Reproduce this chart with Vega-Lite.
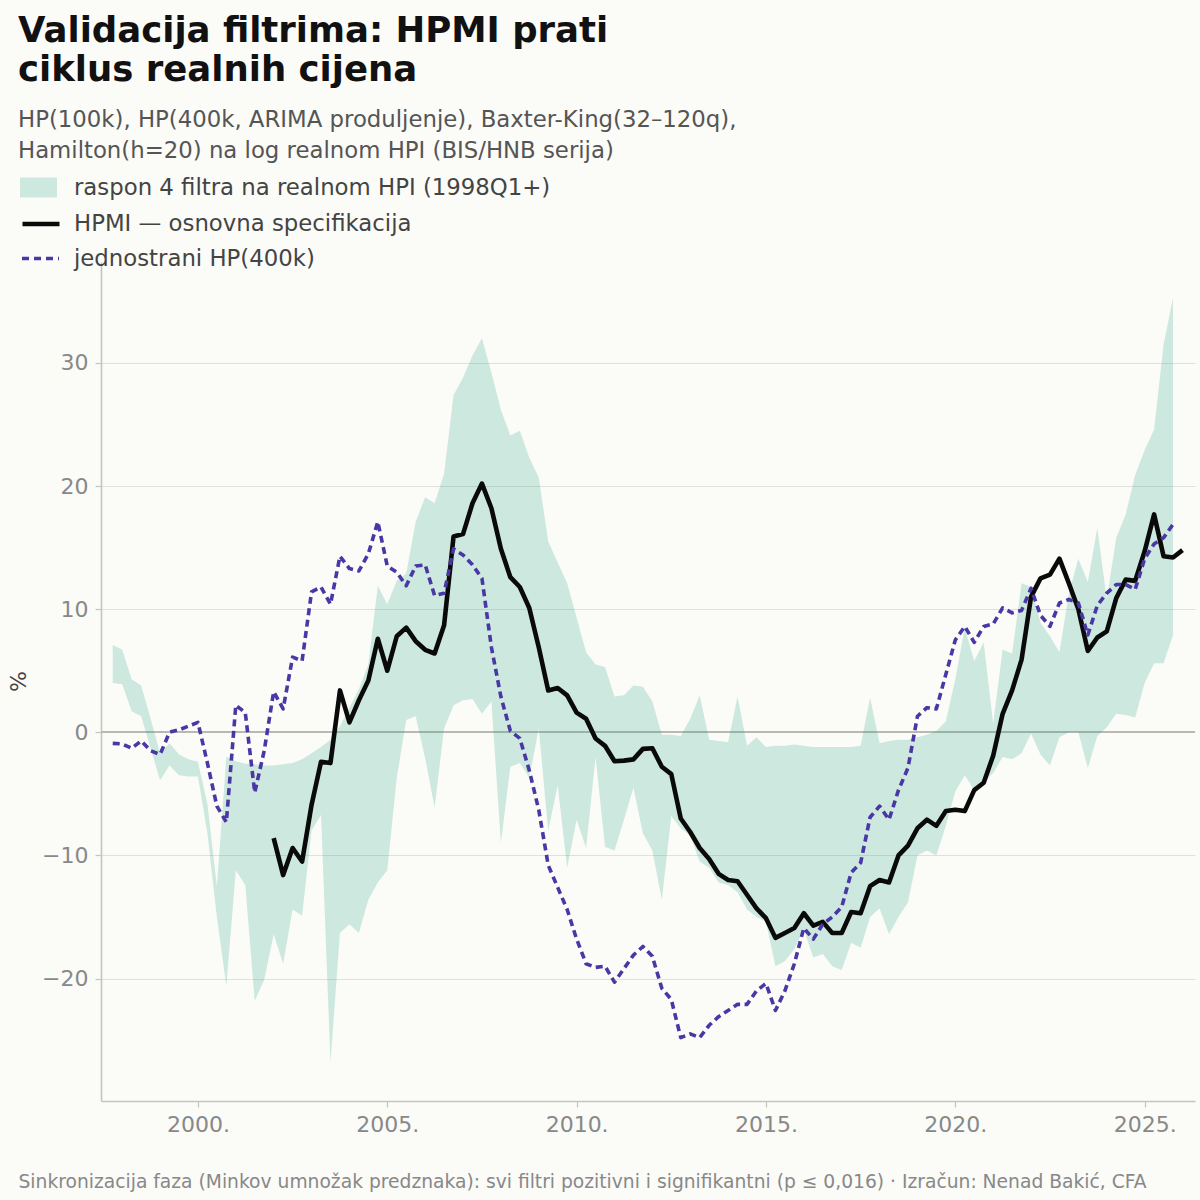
{
  "$schema": "https://vega.github.io/schema/vega-lite/v6.json",
  "width": 1094,
  "height": 839,
  "autosize": {"type": "none"},
  "padding": {"left": 101, "top": 262, "right": 5, "bottom": 99},
  "background": "#fbfbf8",
  "config": {"font": "DejaVu Sans", "view": {"stroke": null}},
  "title": {
    "text": ["Validacija filtrima: HPMI prati", "ciklus realnih cijena"],
    "subtitle": ["HP(100k), HP(400k, ARIMA produljenje), Baxter-King(32–120q),", "Hamilton(h=20) na log realnom HPI (BIS/HNB serija)"],
    "anchor": "start",
    "frame": "group",
    "dx": -83,
    "offset": 6,
    "font": "DejaVu Sans",
    "fontSize": 35.5,
    "fontWeight": "bold",
    "color": "#111111",
    "lineHeight": 38.5,
    "subtitleFont": "DejaVu Sans",
    "subtitleFontSize": 22.8,
    "subtitleColor": "#555555",
    "subtitleLineHeight": 31,
    "subtitlePadding": 21
  },
  "data": {"values": [
    {"t": 1997.75, "lo": 4.0, "hi": 7.1, "h": null, "d": -0.9},
    {"t": 1998.0, "lo": 3.9, "hi": 6.7, "h": null, "d": -0.95},
    {"t": 1998.25, "lo": 1.7, "hi": 4.3, "h": null, "d": -1.3},
    {"t": 1998.5, "lo": 1.3, "hi": 3.8, "h": null, "d": -0.7},
    {"t": 1998.75, "lo": -1.3, "hi": 1.1, "h": null, "d": -1.5},
    {"t": 1999.0, "lo": -3.9, "hi": -1.7, "h": null, "d": -1.8},
    {"t": 1999.25, "lo": -2.7, "hi": -0.9, "h": null, "d": 0.0},
    {"t": 1999.5, "lo": -3.5, "hi": -1.8, "h": null, "d": 0.2},
    {"t": 1999.75, "lo": -3.6, "hi": -2.2, "h": null, "d": 0.5},
    {"t": 2000.0, "lo": -3.6, "hi": -2.4, "h": null, "d": 0.8},
    {"t": 2000.25, "lo": -8.2, "hi": -5.8, "h": null, "d": -2.5},
    {"t": 2000.5, "lo": -15.0, "hi": -12.5, "h": null, "d": -6.0},
    {"t": 2000.75, "lo": -20.6, "hi": -2.0, "h": null, "d": -7.3},
    {"t": 2001.0, "lo": -11.2, "hi": -2.35, "h": null, "d": 2.2},
    {"t": 2001.25, "lo": -12.4, "hi": -2.55, "h": null, "d": 1.6},
    {"t": 2001.5, "lo": -21.8, "hi": -2.6, "h": null, "d": -4.9},
    {"t": 2001.75, "lo": -20.1, "hi": -2.7, "h": null, "d": -1.5},
    {"t": 2002.0, "lo": -16.4, "hi": -2.7, "h": -8.6, "d": 3.3},
    {"t": 2002.25, "lo": -18.8, "hi": -2.6, "h": -11.6, "d": 1.9},
    {"t": 2002.5, "lo": -14.4, "hi": -2.5, "h": -9.4, "d": 6.1},
    {"t": 2002.75, "lo": -14.9, "hi": -2.2, "h": -10.5, "d": 5.8},
    {"t": 2003.0, "lo": -8.0, "hi": -1.7, "h": -5.9, "d": 11.4},
    {"t": 2003.25, "lo": -6.7, "hi": -1.2, "h": -2.4, "d": 11.8},
    {"t": 2003.5, "lo": -26.8, "hi": -0.6, "h": -2.5, "d": 10.4},
    {"t": 2003.75, "lo": -16.3, "hi": 0.5, "h": 3.4, "d": 14.3},
    {"t": 2004.0, "lo": -15.6, "hi": 2.0, "h": 0.8, "d": 13.3},
    {"t": 2004.25, "lo": -16.3, "hi": 3.5, "h": 2.6, "d": 13.1},
    {"t": 2004.5, "lo": -13.6, "hi": 5.5, "h": 4.2, "d": 14.5},
    {"t": 2004.75, "lo": -12.2, "hi": 11.9, "h": 7.6, "d": 17.1},
    {"t": 2005.0, "lo": -11.2, "hi": 10.4, "h": 5.0, "d": 13.5},
    {"t": 2005.25, "lo": -3.7, "hi": 12.3, "h": 7.8, "d": 13.0},
    {"t": 2005.5, "lo": 1.0, "hi": 12.9, "h": 8.5, "d": 11.9},
    {"t": 2005.75, "lo": 1.3, "hi": 17.1, "h": 7.4, "d": 13.5},
    {"t": 2006.0, "lo": -2.1, "hi": 19.1, "h": 6.7, "d": 13.6},
    {"t": 2006.25, "lo": -6.1, "hi": 18.6, "h": 6.4, "d": 11.1},
    {"t": 2006.5, "lo": 0.3, "hi": 21.0, "h": 8.7, "d": 11.3},
    {"t": 2006.75, "lo": 2.2, "hi": 27.4, "h": 15.9, "d": 14.9},
    {"t": 2007.0, "lo": 2.6, "hi": 28.8, "h": 16.1, "d": 14.4},
    {"t": 2007.25, "lo": 2.7, "hi": 30.6, "h": 18.6, "d": 13.6},
    {"t": 2007.5, "lo": 1.5, "hi": 32.0, "h": 20.2, "d": 12.5},
    {"t": 2007.75, "lo": 2.5, "hi": 29.2, "h": 18.2, "d": 6.9},
    {"t": 2008.0, "lo": -9.0, "hi": 26.2, "h": 14.9, "d": 2.9},
    {"t": 2008.25, "lo": -2.8, "hi": 24.1, "h": 12.6, "d": 0.1},
    {"t": 2008.5, "lo": -2.5, "hi": 24.5, "h": 11.8, "d": -0.5},
    {"t": 2008.75, "lo": -3.7, "hi": 22.3, "h": 10.1, "d": -3.1},
    {"t": 2009.0, "lo": 0.3, "hi": 20.7, "h": 6.9, "d": -6.3},
    {"t": 2009.25, "lo": -8.0, "hi": 15.5, "h": 3.4, "d": -10.8},
    {"t": 2009.5, "lo": -4.3, "hi": 13.8, "h": 3.6, "d": -12.6},
    {"t": 2009.75, "lo": -11.0, "hi": 12.1, "h": 3.0, "d": -14.4},
    {"t": 2010.0, "lo": -7.1, "hi": 9.3, "h": 1.6, "d": -16.8},
    {"t": 2010.25, "lo": -9.4, "hi": 6.5, "h": 1.1, "d": -18.8},
    {"t": 2010.5, "lo": -2.0, "hi": 5.5, "h": -0.5, "d": -19.1},
    {"t": 2010.75, "lo": -9.3, "hi": 5.3, "h": -1.1, "d": -19.0},
    {"t": 2011.0, "lo": -9.6, "hi": 2.9, "h": -2.35, "d": -20.3},
    {"t": 2011.25, "lo": -7.1, "hi": 3.0, "h": -2.3, "d": -19.2},
    {"t": 2011.5, "lo": -4.5, "hi": 3.8, "h": -2.2, "d": -18.1},
    {"t": 2011.75, "lo": -8.2, "hi": 3.7, "h": -1.35, "d": -17.4},
    {"t": 2012.0, "lo": -9.6, "hi": 2.5, "h": -1.3, "d": -18.2},
    {"t": 2012.25, "lo": -13.6, "hi": -0.2, "h": -2.8, "d": -20.8},
    {"t": 2012.5, "lo": -6.8, "hi": -0.2, "h": -3.4, "d": -21.7},
    {"t": 2012.75, "lo": -7.8, "hi": -0.3, "h": -7.0, "d": -24.8},
    {"t": 2013.0, "lo": -8.4, "hi": 1.1, "h": -8.1, "d": -24.5},
    {"t": 2013.25, "lo": -10.5, "hi": 3.0, "h": -9.4, "d": -24.8},
    {"t": 2013.5, "lo": -11.0, "hi": -0.6, "h": -10.3, "d": -23.8},
    {"t": 2013.75, "lo": -12.2, "hi": -0.7, "h": -11.5, "d": -23.1},
    {"t": 2014.0, "lo": -12.4, "hi": -0.8, "h": -12.0, "d": -22.6},
    {"t": 2014.25, "lo": -13.0, "hi": 2.9, "h": -12.1, "d": -22.1},
    {"t": 2014.5, "lo": -14.4, "hi": -1.1, "h": -13.2, "d": -22.1},
    {"t": 2014.75, "lo": -15.0, "hi": -0.4, "h": -14.3, "d": -21.0},
    {"t": 2015.0, "lo": -15.4, "hi": -1.2, "h": -15.1, "d": -20.4},
    {"t": 2015.25, "lo": -19.0, "hi": -1.1, "h": -16.7, "d": -22.6},
    {"t": 2015.5, "lo": -18.6, "hi": -1.1, "h": -16.3, "d": -21.0},
    {"t": 2015.75, "lo": -17.6, "hi": -1.0, "h": -15.9, "d": -18.8},
    {"t": 2016.0, "lo": -16.0, "hi": -1.1, "h": -14.7, "d": -15.9},
    {"t": 2016.25, "lo": -18.3, "hi": -1.2, "h": -15.7, "d": -16.8},
    {"t": 2016.5, "lo": -18.0, "hi": -1.2, "h": -15.4, "d": -15.6},
    {"t": 2016.75, "lo": -19.0, "hi": -1.2, "h": -16.3, "d": -15.0},
    {"t": 2017.0, "lo": -19.3, "hi": -1.2, "h": -16.3, "d": -14.2},
    {"t": 2017.25, "lo": -17.1, "hi": -1.2, "h": -14.6, "d": -11.4},
    {"t": 2017.5, "lo": -17.5, "hi": -1.1, "h": -14.7, "d": -10.6},
    {"t": 2017.75, "lo": -15.0, "hi": 2.8, "h": -12.5, "d": -6.9},
    {"t": 2018.0, "lo": -14.3, "hi": -0.9, "h": -12.0, "d": -6.0},
    {"t": 2018.25, "lo": -16.4, "hi": -0.7, "h": -12.2, "d": -7.1},
    {"t": 2018.5, "lo": -15.0, "hi": -0.6, "h": -10.0, "d": -4.7},
    {"t": 2018.75, "lo": -13.8, "hi": -0.6, "h": -9.2, "d": -2.9},
    {"t": 2019.0, "lo": -10.0, "hi": -0.4, "h": -7.8, "d": 1.3},
    {"t": 2019.25, "lo": -9.6, "hi": -0.2, "h": -7.1, "d": 2.0},
    {"t": 2019.5, "lo": -10.0, "hi": 0.1, "h": -7.6, "d": 1.9},
    {"t": 2019.75, "lo": -7.6, "hi": 0.9, "h": -6.4, "d": 4.7},
    {"t": 2020.0, "lo": -4.8, "hi": 4.3, "h": -6.3, "d": 7.5},
    {"t": 2020.25, "lo": -3.5, "hi": 8.5, "h": -6.4, "d": 8.6},
    {"t": 2020.5, "lo": -4.7, "hi": 5.8, "h": -4.7, "d": 7.3},
    {"t": 2020.75, "lo": -4.0, "hi": 7.3, "h": -4.1, "d": 8.6},
    {"t": 2021.0, "lo": -3.3, "hi": 0.7, "h": -1.9, "d": 8.8},
    {"t": 2021.25, "lo": -2.0, "hi": 6.7, "h": 1.5, "d": 10.1},
    {"t": 2021.5, "lo": -2.2, "hi": 6.4, "h": 3.4, "d": 9.7},
    {"t": 2021.75, "lo": -1.7, "hi": 12.1, "h": 5.9, "d": 9.9},
    {"t": 2022.0, "lo": -0.1, "hi": 11.8, "h": 11.0, "d": 11.7},
    {"t": 2022.25, "lo": -1.8, "hi": 8.9, "h": 12.5, "d": 9.5},
    {"t": 2022.5, "lo": -2.7, "hi": 7.8, "h": 12.8, "d": 8.6},
    {"t": 2022.75, "lo": -0.4, "hi": 6.5, "h": 14.1, "d": 10.5},
    {"t": 2023.0, "lo": 0.0, "hi": 11.3, "h": 12.1, "d": 10.8},
    {"t": 2023.25, "lo": 0.0, "hi": 14.1, "h": 10.0, "d": 10.5},
    {"t": 2023.5, "lo": -2.9, "hi": 12.2, "h": 6.6, "d": 7.9},
    {"t": 2023.75, "lo": -0.3, "hi": 16.6, "h": 7.7, "d": 10.3},
    {"t": 2024.0, "lo": 0.4, "hi": 10.8, "h": 8.2, "d": 11.3},
    {"t": 2024.25, "lo": 1.5, "hi": 15.8, "h": 10.9, "d": 12.0},
    {"t": 2024.5, "lo": 1.4, "hi": 17.7, "h": 12.4, "d": 12.0},
    {"t": 2024.75, "lo": 1.2, "hi": 20.9, "h": 12.3, "d": 11.6},
    {"t": 2025.0, "lo": 4.0, "hi": 22.9, "h": 14.7, "d": 14.1},
    {"t": 2025.25, "lo": 5.6, "hi": 24.6, "h": 17.7, "d": 15.3},
    {"t": 2025.5, "lo": 5.6, "hi": 31.5, "h": 14.3, "d": 15.8},
    {"t": 2025.75, "lo": 7.9, "hi": 35.3, "h": 14.2, "d": 16.9},
    {"t": 2026.0, "lo": null, "hi": null, "h": 14.8, "d": null}
  ]},
  "encoding": {
    "x": {
      "field": "t",
      "type": "quantitative",
      "scale": {"domain": [1997.44, 2026.33], "nice": false, "zero": false},
      "axis": {
        "values": [2000, 2005, 2010, 2015, 2020, 2025],
        "labelExpr": "datum.value + '.'",
        "grid": false,
        "domainColor": "#c4c6bc",
        "domainWidth": 1.6,
        "tickColor": "#c4c6bc",
        "tickSize": 6,
        "tickWidth": 1.2,
        "labelFont": "DejaVu Sans",
        "labelFontSize": 22,
        "labelColor": "#888888",
        "labelPadding": 7,
        "title": "Sinkronizacija faza (Minkov umnožak predznaka): svi filtri pozitivni i signifikantni (p ≤ 0,016) · Izračun: Nenad Bakić, CFA",
        "titleFont": "DejaVu Sans",
        "titleFontSize": 18.7,
        "titleFontWeight": "normal",
        "titleColor": "#888888",
        "titleAlign": "left",
        "titleAnchor": "start",
        "titleBaseline": "middle",
        "titleX": -83,
        "titleY": 80
      }
    }
  },
  "layer": [
    {
      "mark": {"type": "rule", "color": "#b9b9b2", "strokeWidth": 1.3},
      "encoding": {"y": {"datum": 0, "type": "quantitative", "scale": {"domain": [-29.95, 38.2], "nice": false, "zero": false}}, "x": null}
    },
    {
      "mark": {"type": "area", "opacity": 0.2},
      "encoding": {
        "y": {
          "field": "lo",
          "type": "quantitative",
          "scale": {"domain": [-29.95, 38.2], "nice": false, "zero": false},
          "axis": {
            "values": [-20, -10, 0, 10, 20, 30],
            "grid": true,
            "gridColor": "#e0e0dc",
            "gridWidth": 1.2,
            "domainColor": "#c4c6bc",
            "domainWidth": 1.6,
            "tickColor": "#c4c6bc",
            "tickSize": 6,
            "tickWidth": 1.2,
            "labelFont": "DejaVu Sans",
            "labelFontSize": 22,
            "labelColor": "#888888",
            "labelPadding": 7,
            "title": "%",
            "titleFont": "DejaVu Sans",
            "titleFontSize": 22,
            "titleFontWeight": "normal",
            "titleColor": "#444444",
            "titleX": -83,
            "titleY": 419,
            "titleAngle": -90,
            "titleAlign": "center",
            "titleBaseline": "middle"
          }
        },
        "y2": {"field": "hi"},
        "fill": {
          "datum": "raspon 4 filtra na realnom HPI (1998Q1+)",
          "scale": {"range": ["#1b9e77"]},
          "legend": {
            "orient": "none",
            "legendX": -81,
            "legendY": -93,
            "title": null,
            "padding": 0,
            "symbolType": "M-1,-0.54L1,-0.54L1,0.54L-1,0.54Z",
            "symbolSize": 1369,
            "symbolOpacity": 0.2,
            "symbolStrokeWidth": 0,
            "labelFont": "DejaVu Sans",
            "labelFontSize": 22.8,
            "labelColor": "#444444",
            "labelOffset": 17,
            "labelLimit": 700
          }
        }
      }
    },
    {
      "mark": {"type": "line", "strokeWidth": 4.6, "strokeJoin": "round"},
      "encoding": {
        "y": {"field": "h", "type": "quantitative"},
        "stroke": {
          "datum": "HPMI — osnovna specifikacija",
          "scale": {"range": ["#0a0a0a"]},
          "legend": {
            "orient": "none",
            "legendX": -81,
            "legendY": -59,
            "title": null,
            "padding": 0,
            "symbolType": "stroke",
            "symbolSize": 1369,
            "symbolStrokeWidth": 4.6,
            "labelFont": "DejaVu Sans",
            "labelFontSize": 22.8,
            "labelColor": "#444444",
            "labelOffset": 12,
            "labelLimit": 700
          }
        }
      }
    },
    {
      "mark": {"type": "line", "strokeWidth": 3.6, "strokeJoin": "round"},
      "encoding": {
        "y": {"field": "d", "type": "quantitative"},
        "color": {
          "datum": "jednostrani HP(400k)",
          "scale": {"range": ["#4a37a6"]},
          "legend": {
            "orient": "none",
            "legendX": -81,
            "legendY": -24,
            "title": null,
            "padding": 0,
            "symbolType": "stroke",
            "symbolSize": 1369,
            "symbolStrokeWidth": 3.6,
            "symbolDash": [7, 5],
            "labelFont": "DejaVu Sans",
            "labelFontSize": 22.8,
            "labelColor": "#444444",
            "labelOffset": 13,
            "labelLimit": 700
          }
        },
        "strokeDash": {"value": [7, 4.5]}
      }
    }
  ]
}
